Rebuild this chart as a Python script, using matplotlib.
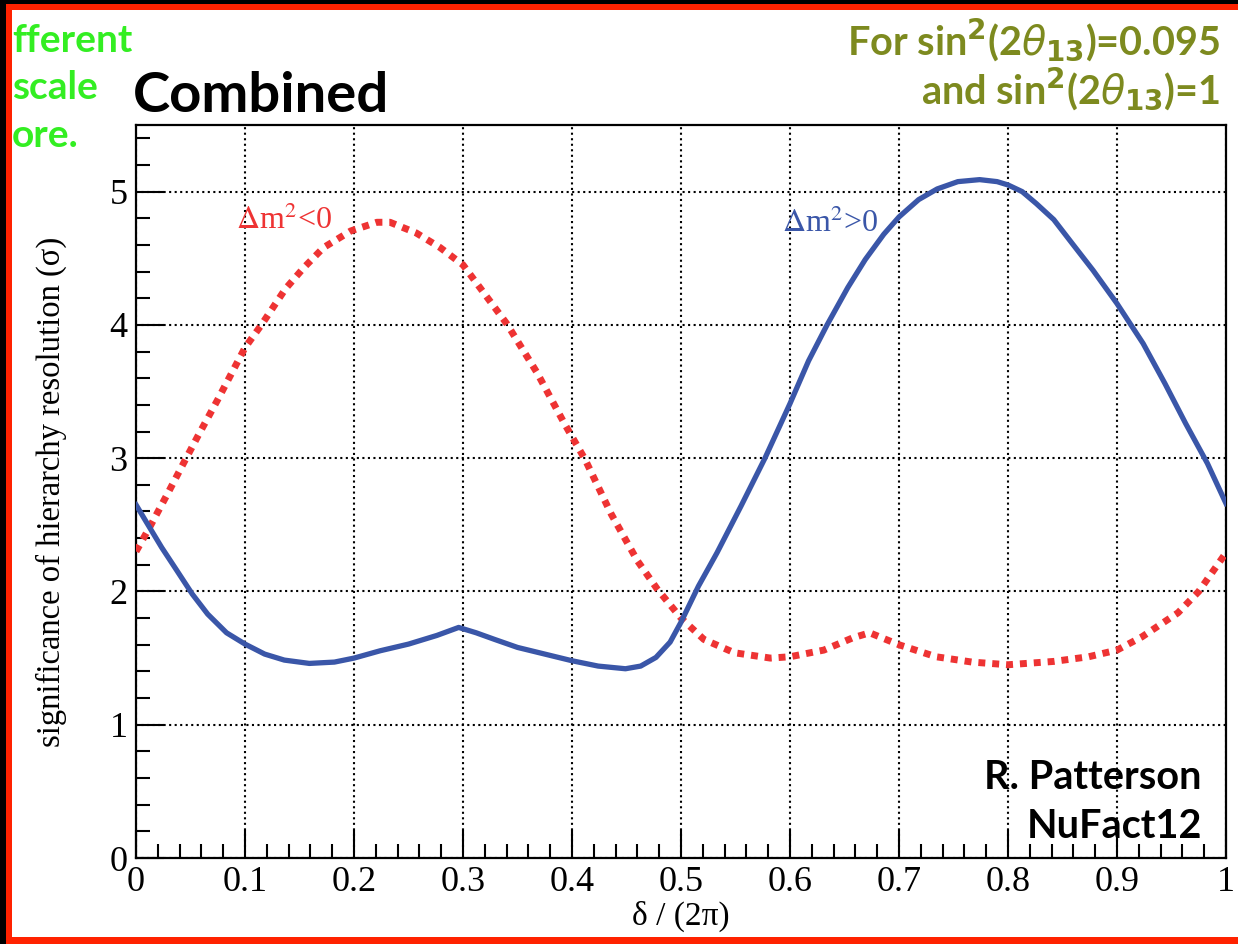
"""Significance of hierarchy resolution vs delta/(2pi), combined (NuFact12 slide)."""

import matplotlib

matplotlib.use("Agg")
import matplotlib.pyplot as plt  # noqa: E402
from matplotlib.patches import Rectangle  # noqa: E402
from matplotlib.ticker import MultipleLocator  # noqa: E402

# curves (normal hierarchy, solid blue)
delta_pos = [0.0, 0.0095, 0.0235, 0.0376, 0.0516, 0.0657, 0.083, 0.1, 0.118,
             0.136, 0.159, 0.182, 0.2, 0.224, 0.25, 0.276, 0.296, 0.312,
             0.329, 0.35, 0.375, 0.4, 0.424, 0.449, 0.463, 0.477, 0.49, 0.5,
             0.516, 0.533, 0.555, 0.577, 0.6, 0.617, 0.634, 0.653, 0.669,
             0.686, 0.7, 0.718, 0.735, 0.754, 0.774, 0.79, 0.8, 0.813, 0.826,
             0.842, 0.859, 0.878, 0.9, 0.924, 0.944, 0.963, 0.983, 1.0]
sig_pos = [2.65, 2.52, 2.33, 2.155, 1.98, 1.83, 1.69, 1.605, 1.53,
           1.485, 1.46, 1.47, 1.50, 1.555, 1.605, 1.67, 1.73, 1.69,
           1.64, 1.58, 1.53, 1.48, 1.44, 1.42, 1.44, 1.505, 1.62, 1.77,
           2.04, 2.29, 2.64, 3.0, 3.41, 3.73, 4.0, 4.28, 4.49,
           4.68, 4.81, 4.94, 5.02, 5.075, 5.09, 5.075, 5.05, 5.0, 4.91,
           4.79, 4.61, 4.41, 4.16, 3.86, 3.56, 3.26, 2.96, 2.66]

# inverted hierarchy, dotted red
delta_neg = [0.0, 0.013, 0.03, 0.0447, 0.057, 0.075, 0.1, 0.115, 0.137, 0.154,
             0.172, 0.197, 0.221, 0.233, 0.257, 0.279, 0.3, 0.34, 0.368, 0.393,
             0.412, 0.436, 0.46, 0.478, 0.5, 0.521, 0.549, 0.582, 0.6, 0.631,
             0.657, 0.673, 0.7, 0.734, 0.767, 0.8, 0.842, 0.874, 0.9, 0.923,
             0.956, 0.975, 1.0]
sig_neg = [2.30, 2.49, 2.75, 2.98, 3.17, 3.44, 3.83, 4.0, 4.27, 4.43,
           4.58, 4.705, 4.77, 4.77, 4.69, 4.58, 4.45, 4.01, 3.64, 3.26,
           2.99, 2.58, 2.23, 2.02, 1.80, 1.64, 1.54, 1.50, 1.51, 1.56,
           1.65, 1.69, 1.60, 1.51, 1.47, 1.45, 1.475, 1.51, 1.56, 1.66,
           1.84, 2.0, 2.29]

x_ticks = [0, 0.1, 0.2, 0.3, 0.4, 0.5, 0.6, 0.7, 0.8, 0.9, 1]
x_tick_labels = ["0", "0.1", "0.2", "0.3", "0.4", "0.5", "0.6", "0.7", "0.8", "0.9", "1"]
y_ticks = [0, 1, 2, 3, 4, 5]

BLUE = "#3a56a8"
RED = "#ee3333"
OLIVE = "#7d8a1f"
GREEN = "#33ee22"
BORDER = "#ff2200"
SERIF = "Liberation Serif"
SANS = ["Lato", "DejaVu Sans"]

fig = plt.figure(figsize=(12.38, 9.44), dpi=100)
ax = fig.add_axes([0.1099, 0.0911, 0.8804, 0.7765])

ax.plot(delta_neg, sig_neg, color=RED, lw=5, linestyle=(0, (1, 1)),
        dash_capstyle="butt", zorder=3)
ax.plot(delta_pos, sig_pos, color=BLUE, lw=3.8, solid_joinstyle="round", zorder=4)

ax.set_xlim(0, 1)
ax.set_ylim(0, 5.5)
ax.set_xticks(x_ticks)
ax.set_xticklabels(x_tick_labels)
ax.set_yticks(y_ticks)
ax.xaxis.set_minor_locator(MultipleLocator(0.02))
ax.yaxis.set_minor_locator(MultipleLocator(0.2))
ax.tick_params(which="both", direction="in", top=False, right=False,
               color="black", width=1.5)
ax.tick_params(which="major", length=20)
ax.tick_params(which="minor", length=10)
ax.tick_params(axis="x", which="major", pad=6)
ax.tick_params(axis="y", which="major", pad=6)
for lab in ax.get_xticklabels() + ax.get_yticklabels():
    lab.set_fontfamily(SERIF)
    lab.set_fontsize(26)
for sp in ax.spines.values():
    sp.set_linewidth(1.6)

ax.grid(which="major", color="black", linestyle=":", linewidth=1.5, zorder=1)

ax.set_xlabel("δ / (2π)", fontfamily=SERIF, fontsize=24)
ax.xaxis.set_label_coords(0.5, -0.058)
ax.set_ylabel("significance of hierarchy resolution (σ)", fontfamily=SERIF,
              fontsize=23.5)
ax.yaxis.set_label_coords(-0.063, 0.5)

ax.text(0.092, 4.72, r"$\Delta$m$^{2}$<0", color=RED, fontfamily=SERIF,
        fontsize=23, math_fontfamily="stix", va="baseline")
ax.text(0.593, 4.70, r"$\Delta$m$^{2}$>0", color=BLUE, fontfamily=SERIF,
        fontsize=23, math_fontfamily="stix", va="baseline")

# slide decorations
fig.text(133 / 1238, 1 - 112 / 944, "Combined", fontfamily=SANS,
         fontweight="bold", fontsize=40.5, va="baseline")
for txt, yb in [("fferent", 52), ("scale", 99), ("ore.", 147)]:
    fig.text(12 / 1238, 1 - yb / 944, txt, fontfamily=SANS, fontweight="bold",
             fontsize=28, color=GREEN, va="baseline")
fig.text(1220 / 1238, 1 - 54 / 944,
         r"For sin$^{\mathbf{2}}$(2$\theta_{\mathbf{13}}$)=0.095",
         fontfamily=SANS, fontweight="bold", fontsize=28.5, color=OLIVE,
         math_fontfamily="dejavusans", ha="right", va="baseline")
fig.text(1220 / 1238, 1 - 103 / 944,
         r"and sin$^{\mathbf{2}}$(2$\theta_{\mathbf{13}}$)=1",
         fontfamily=SANS, fontweight="bold", fontsize=28.5, color=OLIVE,
         math_fontfamily="dejavusans", ha="right", va="baseline")
fig.text(1202 / 1238, 1 - 789 / 944, "R. Patterson", fontfamily=SANS,
         fontweight="bold", fontsize=28.5, ha="right", va="baseline")
fig.text(1202 / 1238, 1 - 838 / 944, "NuFact12", fontfamily=SANS,
         fontweight="bold", fontsize=28.5, ha="right", va="baseline")

# black surround and red slide border
W, H = 1238, 944
frames = [
    (0, 0, 6 / W, 1, "black"),
    (0, 1 - 4 / H, 1, 4 / H, "black"),
    (6 / W, 0, 6 / W, 1 - 4 / H, BORDER),
    (6 / W, 1 - 10 / H, 1 - 6 / W, 6 / H, BORDER),
    (6 / W, 0, 1 - 6 / W, 7 / H, BORDER),
]
for x0, y0, w, h, c in frames:
    fig.add_artist(Rectangle((x0, y0), w, h, transform=fig.transFigure,
                             facecolor=c, edgecolor="none", zorder=10))

fig.savefig("out.png", dpi=100)
